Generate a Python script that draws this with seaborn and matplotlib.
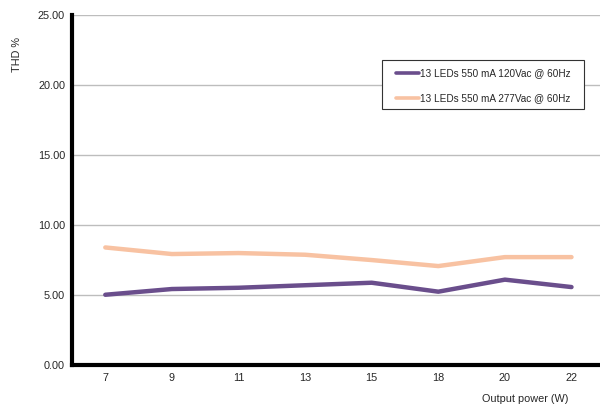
import pandas as pd
import numpy as np
import matplotlib
matplotlib.use("Agg")
import matplotlib.pyplot as plt
from matplotlib.patches import Rectangle
import seaborn as sns

power = ["7", "9", "11", "13", "15", "18", "20", "22"]
thd_120 = [5.02, 5.43, 5.52, 5.70, 5.88, 5.24, 6.10, 5.57]
thd_277 = [8.40, 7.93, 8.00, 7.88, 7.50, 7.07, 7.71, 7.71]
series_names = ["13 LEDs 550 mA 120Vac @ 60Hz", "13 LEDs 550 mA 277Vac @ 60Hz"]
colors = ["#6A4E8C", "#F8C2A2"]

df = pd.DataFrame({
    "power": power * 2,
    "thd": thd_120 + thd_277,
    "series": [series_names[0]] * len(power) + [series_names[1]] * len(power),
})

sns.set_style("white")
plt.rcParams['font.family'] = ['Liberation Sans', 'DejaVu Sans']
fs = 7.8
leg_fs = 7.2
W, H = 600, 404

fig = plt.figure(figsize=(6, 4.04), dpi=100)
ax = fig.add_axes([0.12, 0.0965, 0.888, 0.866])

sns.lineplot(data=df, x="power", y="thd", hue="series", palette=colors,
             linewidth=3.2, sort=False, ax=ax)

ax.set_xlim(-0.5, 7.5)
ax.set_ylim(0, 25)
ax.set_yticks(np.arange(0, 26, 5))
ax.set_yticklabels(["%.2f" % v for v in np.arange(0, 26, 5)], fontsize=fs)
ax.yaxis.grid(True, color="#BDBDBD", linewidth=1)
ax.set_axisbelow(True)

# ticks at category boundaries
ax.set_xticks(range(len(power)))
ax.set_xticklabels(power, fontsize=fs)
ax.set_xticks(np.arange(-0.5, len(power), 1), minor=True)
ax.tick_params(axis="x", which="major", length=0, pad=6)
ax.tick_params(axis="x", which="minor", length=3, width=1.8, color="black", direction="out")
ax.tick_params(axis="y", length=2, width=1.8, color="black", pad=3)

for s in ["top", "right"]:
    ax.spines[s].set_visible(False)
ax.spines["left"].set_linewidth(3)
ax.spines["bottom"].set_linewidth(3)
ax.spines["left"].set_color("black")
ax.spines["bottom"].set_color("black")

ax.set_xlabel("")
ax.set_ylabel("")
fig.text(0.029, 0.866, "THD %", rotation=90, fontsize=fs, ha="center", va="center")
fig.text(0.875, 1 - 399 / H, "Output power (W)", fontsize=fs, ha="center", va="center")

# legend box drawn separately so the padding matches the original
box = Rectangle((382 / W, 1 - 109 / H), 202 / W, 49 / H, transform=fig.transFigure,
                facecolor="white", edgecolor="#333333", linewidth=0.8, zorder=3)
fig.patches.append(box)
leg = fig.legend(*ax.get_legend_handles_labels(), loc="upper left",
                 bbox_to_anchor=(396 / W, 1 - 68 / H), borderaxespad=0, borderpad=0,
                 frameon=False, fontsize=leg_fs, handlelength=2.3, handletextpad=0.05,
                 labelspacing=1.5)
leg.set_zorder(4)
for line in leg.get_lines():
    line.set_linewidth(2.6)
ax.get_legend().remove()

plt.savefig("out.png", dpi=100)
plt.close()
